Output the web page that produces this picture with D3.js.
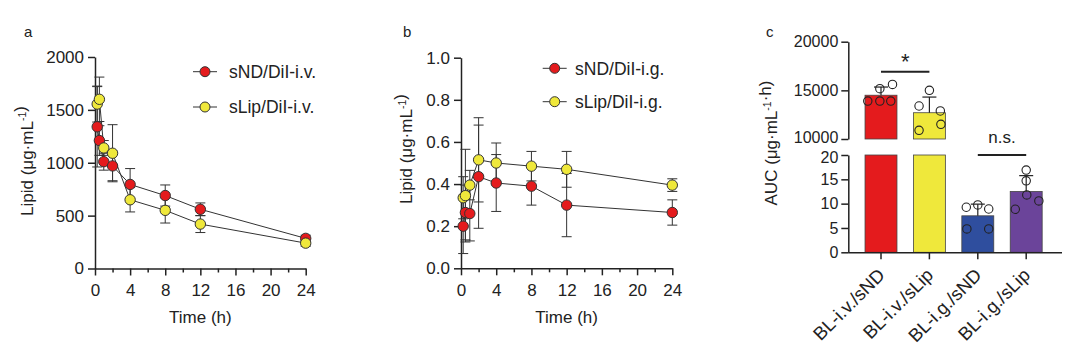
<!DOCTYPE html>
<html><head><meta charset="utf-8">
<script src="https://cdn.jsdelivr.net/npm/d3@7/dist/d3.min.js"></script>
<style>
html,body{margin:0;padding:0;background:#fff;}
text{font-family:"Liberation Sans",Arial,sans-serif;fill:#222;}
</style></head><body>
<svg id="chart" width="1080" height="355"></svg>
<script>
// ---------- DATA ----------
const times = [0.25, 0.5, 1, 2, 4, 8, 12, 24];
const timeTicks = [0, 4, 8, 12, 16, 20, 24];
const timeMinorTicks = [2, 6, 10, 14, 18, 22];

const sNDiv = [1340, 1210, 1010, 970, 795, 690, 560, 285];
const sNDivSD = [380, 140, 80, 140, 150, 100, 60, 30];
const sLipiv = [1555, 1600, 1140, 1090, 650, 550, 420, 240];
const sLipivSD = [170, 210, 70, 270, 115, 120, 80, 30];
const ticksA = [0, 500, 1000, 1500, 2000];

const sNDig = [0.20, 0.265, 0.26, 0.435, 0.405, 0.39, 0.30, 0.265];
const sNDigSD = [0.13, 0.13, 0.13, 0.245, 0.135, 0.09, 0.15, 0.06];
const sLipig = [0.335, 0.345, 0.395, 0.515, 0.50, 0.485, 0.47, 0.395];
const sLipigSD = [0.10, 0.22, 0.07, 0.20, 0.095, 0.07, 0.085, 0.03];
const ticksB = [0, 0.2, 0.4, 0.6, 0.8, 1.0];

const groups = ["BL-i.v./sND", "BL-i.v./sLip", "BL-i.g./sND", "BL-i.g./sLip"];
const aucMean = [14500, 12700, 7.5, 12.5];
const aucSD = [840, 1610, 2.4, 3.26];
const aucPoints = [
  [13900, 13900, 13900, 15170, 15610],
  [15000, 13390, 12880, 10890, 11510],
  [9.26, 9.73, 8.9, 4.8, 4.8],
  [16.9, 14.7, 11.8, 8.85, 10.55]
];
const ticksCUpper = [10000, 15000, 20000];
const ticksCLower = [0, 5, 10, 15, 20];

// ---------- STYLE / LAYOUT ----------
const RED = "#e41b1d", YELLOW = "#efe83b";
const barColors = ["#e41b1d", "#efe83b", "#2f4e9e", "#6b449a"];
const INK = "#222";
const FS = 17;
// dot jitter pattern (left/centre/right) per group, in units of dot spacing
const jitter = [[-1.15, -0.1, 0.85, -0.1, 1.0], [0, -0.9, 0.95, -0.9, 1.0], [-1.0, 0, 0.95, -0.95, 0.95], [0, 0, 0.05, -0.95, 1.1]];

const svg = d3.select("#chart");

function supLabel(g, x, y, rot, parts, size) {
  const t = g.append("text").attr("transform", `translate(${x},${y}) rotate(${rot})`)
    .attr("text-anchor", "middle").attr("font-size", size);
  parts.forEach(p => {
    if (p.sup) {
      t.append("tspan").attr("font-size", size * 0.62).attr("dy", -size * 0.38).text(p.t);
      t.append("tspan").attr("font-size", size).attr("dy", size * 0.38).text("");
    } else t.append("tspan").text(p.t);
  });
  return t;
}

function styleAxis(a, fs) {
  a.selectAll("path,line").attr("stroke", INK).attr("stroke-width", 1.5);
  a.selectAll("text").attr("font-size", fs || FS).attr("fill", INK).attr("font-family", "Liberation Sans, Arial, sans-serif");
}

function timePanel(cfg) {
  const g = svg.append("g");
  const x = d3.scaleLinear().domain([0, 24]).range(cfg.xr);
  const y = d3.scaleLinear().domain(cfg.yd).range(cfg.yr);

  const ax = g.append("g").attr("transform", `translate(0,${cfg.yr[0]})`)
    .call(d3.axisBottom(x).tickValues(timeTicks).tickSize(7).tickPadding(5).tickSizeOuter(0));
  const axm = g.append("g").attr("transform", `translate(0,${cfg.yr[0]})`)
    .call(d3.axisBottom(x).tickValues(timeMinorTicks).tickSize(4).tickFormat("").tickSizeOuter(0));
  axm.select(".domain").remove();
  const ay = g.append("g").attr("transform", `translate(${cfg.xr[0]},0)`)
    .call(d3.axisLeft(y).tickValues(cfg.yticks).tickSize(7).tickPadding(4).tickSizeOuter(0).tickFormat(cfg.fmt));
  [ax, axm, ay].forEach(a => styleAxis(a));
  ax.selectAll("text").attr("dy", "0.9em");

  const series = [
    { v: cfg.red, sd: cfg.redSD, c: RED, name: cfg.names[0] },
    { v: cfg.yel, sd: cfg.yelSD, c: YELLOW, name: cfg.names[1] }
  ];
  const line = d3.line().x((d, i) => x(times[i])).y(d => y(d));
  series.forEach(s => {
    g.append("path").attr("d", line(s.v)).attr("fill", "none").attr("stroke", "#333").attr("stroke-width", 1);
  });
  series.forEach(s => {
    const eb = g.append("g").attr("stroke", "#333").attr("stroke-width", 1);
    s.v.forEach((v, i) => {
      const cx = x(times[i]), y1 = y(v + s.sd[i]), y0 = y(Math.max(0, v - s.sd[i]));
      eb.append("line").attr("x1", cx).attr("x2", cx).attr("y1", y1).attr("y2", y0);
      eb.append("line").attr("x1", cx - 5).attr("x2", cx + 5).attr("y1", y1).attr("y2", y1);
      eb.append("line").attr("x1", cx - 5).attr("x2", cx + 5).attr("y1", y0).attr("y2", y0);
    });
  });
  series.forEach(s => {
    g.append("g").selectAll("circle").data(s.v).join("circle")
      .attr("cx", (d, i) => x(times[i])).attr("cy", d => y(d)).attr("r", 5.2)
      .attr("fill", s.c).attr("stroke", "#333").attr("stroke-width", 1);
  });
  series.forEach((s, k) => {
    const ly = cfg.leg.y[k];
    g.append("line").attr("x1", cfg.leg.x - 12).attr("x2", cfg.leg.x + 12).attr("y1", ly).attr("y2", ly)
      .attr("stroke", "#333").attr("stroke-width", 1);
    g.append("circle").attr("cx", cfg.leg.x).attr("cy", ly).attr("r", 5).attr("fill", s.c).attr("stroke", "#333");
    g.append("text").attr("x", cfg.leg.tx).attr("y", ly).attr("dy", "0.36em").attr("font-size", 17.5).text(s.name);
  });
  g.append("text").attr("x", (cfg.xr[0] + cfg.xr[1]) / 2).attr("y", 323).attr("text-anchor", "middle")
    .attr("font-size", FS).text("Time (h)");
  supLabel(g, cfg.ylab[0], cfg.ylab[1], -90, [{ t: "Lipid (μg·mL" }, { t: "-1", sup: true }, { t: ")" }], FS);
  g.append("text").attr("x", cfg.panel[0]).attr("y", cfg.panel[1]).attr("font-size", 15).text(cfg.panel[2]);
}

timePanel({
  xr: [95, 305.7], yd: [0, 2000], yr: [268.5, 57], yticks: ticksA, fmt: d3.format("d"),
  red: sNDiv, redSD: sNDivSD, yel: sLipiv, yelSD: sLipivSD,
  names: ["sND/DiI-i.v.", "sLip/DiI-i.v."],
  leg: { x: 205, tx: 229, y: [71.7, 107] }, ylab: [32.5, 161], panel: [24, 37, "a"]
});
timePanel({
  xr: [461, 672.3], yd: [0, 1], yr: [268.3, 57.7], yticks: ticksB, fmt: d3.format(".1f"),
  red: sNDig, redSD: sNDigSD, yel: sLipig, yelSD: sLipigSD,
  names: ["sND/DiI-i.g.", "sLip/DiI-i.g."],
  leg: { x: 554.7, tx: 575, y: [68.3, 101.7] }, ylab: [412, 149], panel: [403, 37, "b"]
});

// ---------- Panel c ----------
(function () {
  const g = svg.append("g");
  const axX = 848.3;
  const x = d3.scaleBand().domain(groups).range([856.8, 1050.4]).paddingInner(0.34).paddingOuter(0.17);
  const yU = d3.scaleLinear().domain([10000, 20000]).range([139, 41.7]);
  const yL = d3.scaleLinear().domain([0, 20]).range([252.3, 155]);
  const yv = v => v > 20 ? yU(v) : yL(v);

  groups.forEach((grp, i) => {
    const v = aucMean[i], bx = x(grp), bw = x.bandwidth();
    const rects = [];
    if (v > 20) {
      rects.push([yL(20), yL(0)]);
      rects.push([yU(v), yU(10000)]);
    } else rects.push([yL(v), yL(0)]);
    rects.forEach(r => g.append("rect").attr("x", bx).attr("width", bw).attr("y", r[0]).attr("height", r[1] - r[0])
      .attr("fill", barColors[i]).attr("stroke", "#444").attr("stroke-width", 0.8));
  });
  groups.forEach((grp, i) => {
    const cx = x(grp) + x.bandwidth() / 2, v = aucMean[i];
    const top = yv(v + aucSD[i]);
    g.append("line").attr("x1", cx).attr("x2", cx).attr("y1", yv(v)).attr("y2", top).attr("stroke", "#222").attr("stroke-width", 1.2);
    g.append("line").attr("x1", cx - 7).attr("x2", cx + 7).attr("y1", top).attr("y2", top).attr("stroke", "#222").attr("stroke-width", 1.2);
  });
  groups.forEach((grp, i) => {
    const cx = x(grp) + x.bandwidth() / 2;
    g.append("g").selectAll("circle").data(aucPoints[i]).join("circle")
      .attr("cx", (d, k) => cx + jitter[i][k] * 11.5).attr("cy", d => yv(d)).attr("r", 4.2)
      .attr("fill", "none").attr("stroke", "#222").attr("stroke-width", 1.1);
  });

  const aU = g.append("g").attr("transform", `translate(${axX},0)`)
    .call(d3.axisLeft(yU).tickValues(ticksCUpper).tickSize(7).tickPadding(3).tickSizeOuter(0).tickFormat(d3.format("d")));
  const aL = g.append("g").attr("transform", `translate(${axX},0)`)
    .call(d3.axisLeft(yL).tickValues(ticksCLower).tickSize(7).tickPadding(3).tickSizeOuter(0).tickFormat(d3.format("d")));
  const aB = g.append("g").attr("transform", `translate(0,${yL(0)})`)
    .call(d3.axisBottom(x).tickSize(7).tickSizeOuter(0));
  aB.select(".domain").attr("d", `M${axX},0.5H1062`);
  [aU, aL].forEach(a => styleAxis(a, 16));
  styleAxis(aB, 18.5);
  aU.selectAll(".tick text").filter(d => d === 10000).attr("dy", "0.2em");
  aL.selectAll(".tick text").filter(d => d === 20).attr("dy", "0.45em");
  aB.selectAll("text").attr("text-anchor", "end").attr("dy", null).attr("y", 0)
    .attr("transform", "translate(5,24) rotate(-45)");

  const sig = [[0, 1, 71.7, "*", 22, -3], [2, 3, 155, "n.s.", 17, -12]];
  sig.forEach(s => {
    const x1 = x(groups[s[0]]) + x.bandwidth() / 2, x2 = x(groups[s[1]]) + x.bandwidth() / 2;
    g.append("line").attr("x1", x1).attr("x2", x2).attr("y1", s[2]).attr("y2", s[2]).attr("stroke", "#222").attr("stroke-width", 2);
    g.append("text").attr("x", (x1 + x2) / 2).attr("y", s[2] + s[5]).attr("text-anchor", "middle").attr("font-size", s[4]).text(s[3]);
  });

  supLabel(g, 777, 143, -90, [{ t: "AUC (μg·mL" }, { t: "-1", sup: true }, { t: "·h)" }], FS);
  g.append("text").attr("x", 766).attr("y", 37).attr("font-size", 15).text("c");
})();
</script>
</body></html>
